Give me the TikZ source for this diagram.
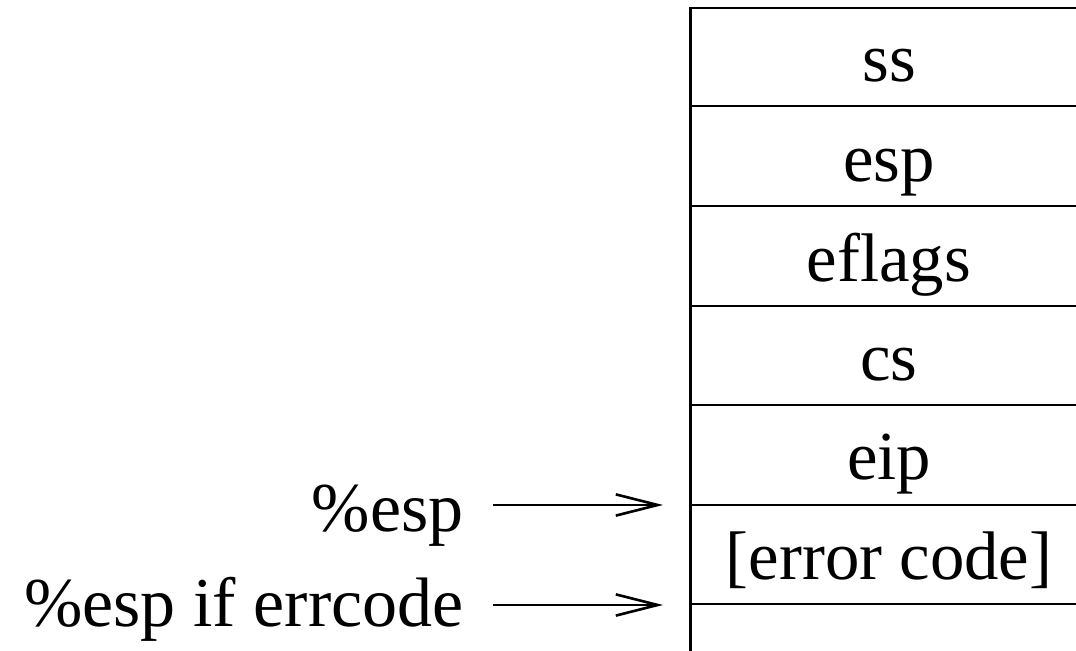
\documentclass[tikz,border=0pt]{standalone}
\usepackage{fontspec}
\setmainfont{Liberation Serif}
\usetikzlibrary{arrows.meta}
\begin{document}
\begin{tikzpicture}[x=0.16pt, y=-0.16pt, line width=0.42pt,
  celltext/.style={anchor=base, inner sep=0pt, font=\fontsize{11}{13}\selectfont},
  ptrlabel/.style={anchor=base east, inner xsep=4.5pt, inner ysep=0pt, font=\fontsize{11.2}{13}\selectfont},
  ptr/.style={-{Straight Barb[length=6.7pt, width=3.4pt]}}]
  \useasboundingbox (0,0) rectangle (1076,651);

  % stack frame: left edge and slot separators
  \draw (690.5,8) -- (690.5,651);
  \foreach \y in {8,106,206,306,405,505,604}
    \draw (689.2,\y) -- (1076,\y);

  % slot contents
  \node[celltext] (ss)     at (889,82)  {ss};
  \node[celltext] (esp)    at (889,182) {esp};
  \node[celltext] (eflags) at (889,282) {eflags};
  \node[celltext] (cs)     at (889,381) {cs};
  \node[celltext] (eip)    at (889,480) {eip};
  \node[celltext] (err)    at (889,580) {[error code]};

  % stack pointer markers
  \coordinate (top)    at (663,505);
  \coordinate (toperr) at (663,605);
  \node[ptrlabel] (sp)    at (493,532) {\%esp};
  \node[ptrlabel] (sperr) at (493,627) {\%esp if errcode};
  \draw[ptr] (sp.east |- top) -- (top);
  \draw[ptr] (sperr.east |- toperr) -- (toperr);
\end{tikzpicture}
\end{document}
